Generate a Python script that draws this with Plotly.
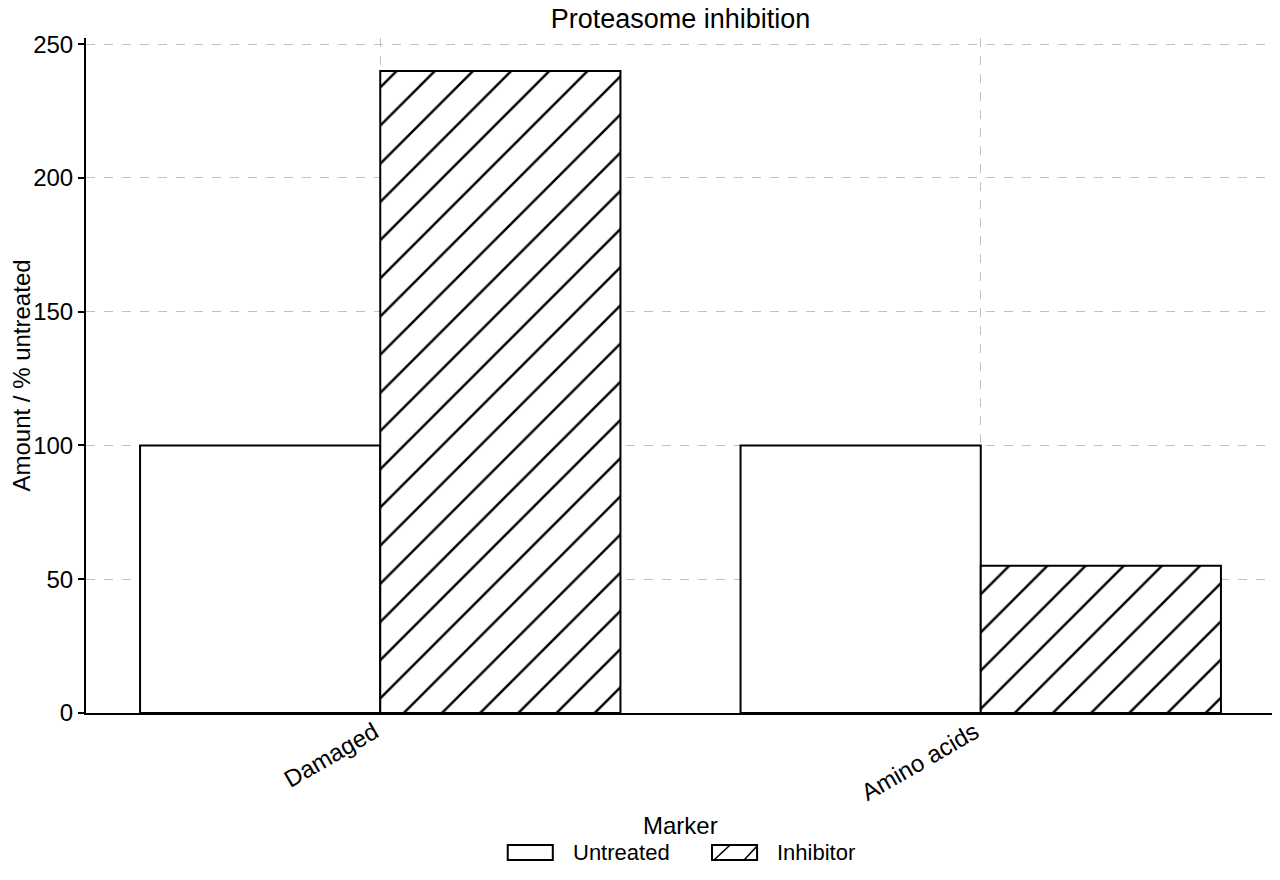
import plotly.graph_objects as go

markers = ["Damaged", "Amino acids"]
untreated = [100, 100]
inhibitor = [240, 55]

font = "Liberation Sans, Arial, Helvetica, sans-serif"

fig = go.Figure()
fig.add_trace(go.Bar(
    x=markers, y=untreated, name="Untreated", showlegend=False,
    marker=dict(color="white", line=dict(color="black", width=2)),
))
fig.add_trace(go.Bar(
    x=markers, y=inhibitor, name="Inhibitor", showlegend=False,
    marker=dict(color="white", line=dict(color="black", width=2),
                pattern=dict(shape="/", size=27, solidity=0.09,
                             fgcolor="black", bgcolor="white", fgopacity=1)),
))

# hand-made legend (wide swatches like the original)
sw = dict(type="rect", xref="paper", yref="paper", line=dict(color="black", width=2),
          fillcolor="white")
fig.add_shape(**sw, x0=0.3547, x1=0.3926, y0=-0.2178, y1=-0.1956)
fig.add_shape(**sw, x0=0.5265, x1=0.5644, y0=-0.2178, y1=-0.1956)
for x0, x1, y1 in [(0.5282, 0.5417, -0.1956), (0.5535, 0.5644, -0.1970)]:
    fig.add_shape(type="line", xref="paper", yref="paper", x0=x0, x1=x1,
                  y0=-0.2178, y1=y1, line=dict(color="black", width=1.6))
fig.add_annotation(text="Marker", xref="paper", yref="paper", x=0.5004, y=-0.166,
                   yanchor="middle", showarrow=False, font=dict(size=24))
fig.add_annotation(text="Untreated", xref="paper", yref="paper", x=0.4077, y=-0.2067,
                   xanchor="left", yanchor="middle", showarrow=False, font=dict(size=22))
fig.add_annotation(text="Inhibitor", xref="paper", yref="paper", x=0.5796, y=-0.2067,
                   xanchor="left", yanchor="middle", showarrow=False, font=dict(size=22))

fig.update_layout(
    width=1280, height=880,
    barmode="group", bargap=0.2, bargroupgap=0,
    paper_bgcolor="white", plot_bgcolor="white",
    font=dict(family=font, size=24, color="black"),
    title=dict(text="Proteasome inhibition", x=0.5, xref="paper", xanchor="center",
               y=0.9875, yanchor="middle", font=dict(size=27)),
    margin=dict(l=78, r=13, t=30, b=175),
    showlegend=False,
)
fig.update_xaxes(
    range=[-0.49, 1.49], showline=True, linecolor="black", linewidth=2,
    showgrid=True, gridcolor="#c0c0c0", griddash="dash", gridwidth=1,
    tickangle=-30, ticks="", tickfont=dict(size=24), automargin=False,
    ticklabelstandoff=-6, ticklabelshift=-6,
)
fig.update_yaxes(
    range=[0, 252.3], showline=True, linecolor="black", linewidth=2,
    showgrid=True, gridcolor="#c0c0c0", griddash="dash", gridwidth=1,
    ticks="outside", ticklen=6, tickwidth=2, tickcolor="black",
    tickvals=[0, 50, 100, 150, 200, 250], zeroline=False, automargin=False,
    title=dict(text="Amount / % untreated", standoff=6, font=dict(size=24)),
    tickfont=dict(size=24),
)

fig.write_html("out.html")
